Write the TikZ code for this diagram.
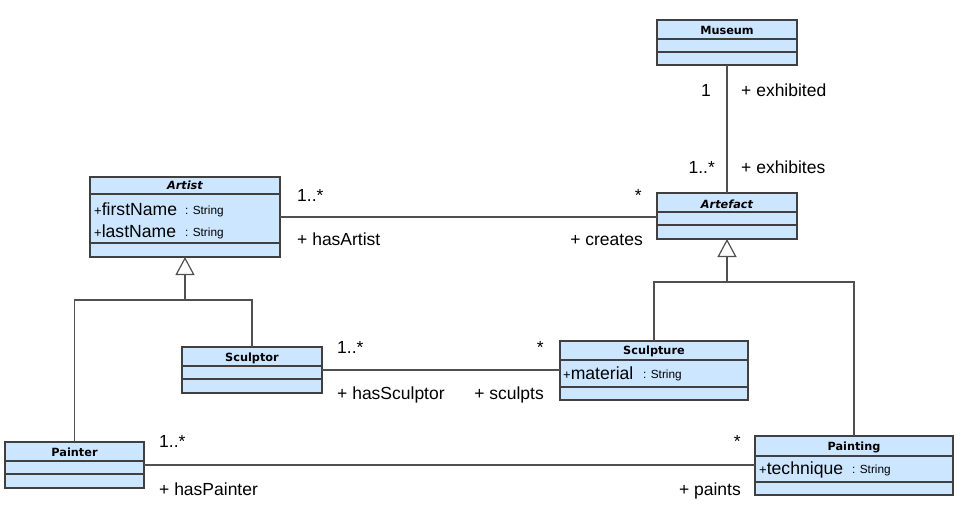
\documentclass[tikz,border=0pt]{standalone}
\usepackage{fontspec}
\setmainfont{Liberation Sans}
\newfontfamily\titlefont{DejaVu Sans}
\usetikzlibrary{arrows.meta,calc}
\definecolor{clsfill}{RGB}{204,230,255}
\definecolor{clsline}{RGB}{64,64,64}
\definecolor{conn}{RGB}{80,80,80}
\newcommand\umlclass[7]{%
  \node[cls,minimum width=#4pt,minimum height=#5pt] (#1) at (#2,#3) {};
  \draw[sepline] (#1.west |- 0,#6) -- (#1.east |- 0,#6);
  \draw[sepline] (#1.west |- 0,#7) -- (#1.east |- 0,#7);}
\begin{document}
\begin{tikzpicture}[x=1pt,y=-1pt,
  cls/.style={rectangle,draw=clsline,fill=clsfill,line width=1.3pt,inner sep=0pt,outer sep=0pt,anchor=north west},
  sepline/.style={draw=clsline,line width=1.2pt},
  ttl/.style={font=\titlefont\bfseries\fontsize{11.3}{13}\selectfont,anchor=base,inner sep=0pt},
  ittl/.style={font=\titlefont\bfseries\itshape\fontsize{11.3}{13}\selectfont,anchor=base,inner sep=0pt},
  attr/.style={anchor=base west,inner sep=0pt,font=\fontsize{17.6}{20}\selectfont},
  atype/.style={anchor=base west,inner sep=0pt,font=\fontsize{11.8}{13}\selectfont},
  lbl/.style={inner sep=0pt,font=\fontsize{17.5}{20}\selectfont},
  assoc/.style={draw=conn,line width=1.2pt},
  gen/.style={draw=conn,line width=1.2pt,-{Triangle[open,width=19pt,length=18pt,fill=white]}}
]
\useasboundingbox[fill=white] (0,0) rectangle (961,522);

% classes
\umlclass{museum}{657}{20}{140}{45}{39}{52}
\umlclass{artist}{90}{177}{190}{80}{194}{243}
\umlclass{artefact}{657}{193}{140}{46}{212}{225}
\umlclass{sculptor}{182}{347}{140}{46}{366}{379}
\umlclass{sculpture}{560}{341}{188}{59}{360}{387}
\umlclass{painter}{5}{442}{139}{46}{461}{474}
\umlclass{painting}{755}{436}{198}{59}{456}{482}

% titles
\node[ttl] (tmuseum) at (727,34) {Museum};
\node[ittl] (tartist) at (185,189) {Artist};
\node[ittl] (tartefact) at (727,208) {Artefact};
\node[ttl] (tsculptor) at (252,361) {Sculptor};
\node[ttl] (tsculpture) at (654,354) {Sculpture};
\node[ttl] (tpainter) at (74.5,456) {Painter};
\node[ttl] (tpainting) at (854,450) {Painting};

% attributes
\node[attr] (a1) at (94,215) {{\fontsize{13}{14}\selectfont+}firstName};
\node[atype] (a1t) at (185,214) {: String};
\node[attr] (a2) at (94,237) {{\fontsize{13}{14}\selectfont+}lastName};
\node[atype] (a2t) at (185,236) {: String};
\node[attr] (a3) at (563,379) {{\fontsize{13}{14}\selectfont+}material};
\node[atype] (a3t) at (643,378) {: String};
\node[attr] (a4) at (759,474) {{\fontsize{13}{14}\selectfont+}technique};
\node[atype] (a4t) at (852,473) {: String};

% associations
\draw[assoc] (museum.south) -- (artefact.north);
\draw[assoc] (artist.east) -- (artist.east -| artefact.west);
\draw[assoc] (sculptor.east) -- (sculptor.east -| sculpture.west);
\draw[assoc] (painter.east) -- (painter.east -| painting.west);

% generalizations
\coordinate (j1) at (185,300);
\coordinate (j2) at (727,282);
\draw[assoc] (painter.north) |- (sculptor.north |- j1) -- (sculptor.north);
\draw[gen] (j1) -- (artist.south);
\draw[assoc] (sculpture.north) |- (painting.north |- j2) -- (painting.north);
\draw[gen] (j2) -- (artefact.south);

% labels
\node[lbl,anchor=base east] (m1) at (711,96) {1};
\node[lbl,anchor=base west] (m2) at (741,96) {+ exhibited};
\node[lbl,anchor=base east] (m3) at (715,173) {1..*};
\node[lbl,anchor=base west] (m4) at (741,173) {+ exhibites};

\node[lbl,anchor=base west] (l1) at (297,201) {1..*};
\node[lbl,anchor=base west] (l2) at (297,245) {+ hasArtist};
\node[lbl,anchor=base east] (l3) at (642,201) {*};
\node[lbl,anchor=base east] (l4) at (643,245) {+ creates};

\node[lbl,anchor=base west] (s1) at (337,353) {1..*};
\node[lbl,anchor=base west] (s2) at (337,399) {+ hasSculptor};
\node[lbl,anchor=base east] (s3) at (544,353) {*};
\node[lbl,anchor=base east] (s4) at (544,399) {+ sculpts};

\node[lbl,anchor=base west] (p1) at (159,447) {1..*};
\node[lbl,anchor=base west] (p2) at (159,495) {+ hasPainter};
\node[lbl,anchor=base east] (p3) at (741,447) {*};
\node[lbl,anchor=base east] (p4) at (741,495) {+ paints};
\end{tikzpicture}
\end{document}
